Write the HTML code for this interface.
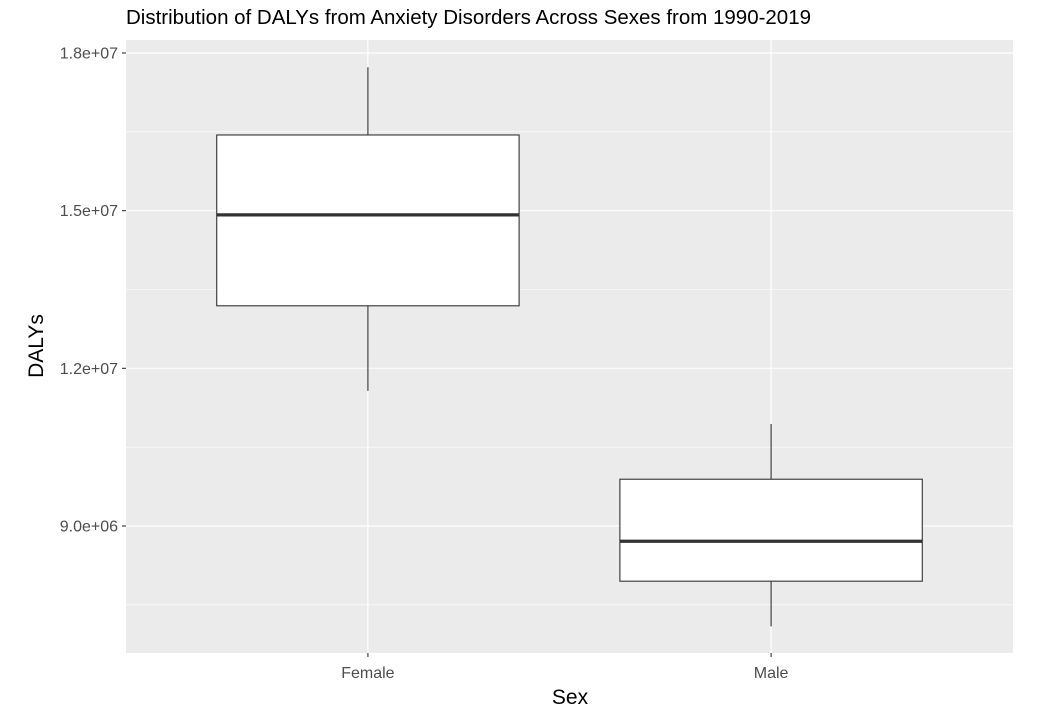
<!DOCTYPE html>
<html><head><meta charset="utf-8"><style>
body{margin:0;background:#fff;}
svg{display:block;font-family:"Liberation Sans",Arial,sans-serif;}
</style></head><body>
<svg id="chart" width="1062" height="723">
<text x="126" y="24" font-size="20" textLength="685" lengthAdjust="spacingAndGlyphs" fill="#000">Distribution of DALYs from Anxiety Disorders Across Sexes from 1990-2019</text>
<rect x="126" y="40" width="887" height="613" fill="#ebebeb"/>
<g id="grid"></g><g id="boxes"></g><g id="axes"></g>
<text x="570" y="704" font-size="21" text-anchor="middle" fill="#000">Sex</text>
<text transform="translate(43,346) rotate(-90)" font-size="21" text-anchor="middle" fill="#000">DALYs</text>
</svg>
<script>
const categories=["Female","Male"];
const whiskerLow=[11570000,7090000];
const q1=[13190000,7950000];
const medians=[14920000,8710000];
const q3=[16440000,9890000];
const whiskerHigh=[17730000,10940000];
const yTicks=[9000000,12000000,15000000,18000000];
const yTickLabels=["9.0e+06","1.2e+07","1.5e+07","1.8e+07"];
const NS="http://www.w3.org/2000/svg";
const pLeft=126,pRight=1013,pTop=40,pBottom=653;
function y(v){return 526+(9000000-v)*(473/9000000);}
const step=(pRight-pLeft)/(categories.length-1+1.2);
function x(i){return pLeft+step*(0.6+i);}
function mk(tag,attrs,parent){const e=document.createElementNS(NS,tag);for(const k in attrs)e.setAttribute(k,attrs[k]);parent.appendChild(e);return e;}
const grid=document.getElementById('grid'),boxes=document.getElementById('boxes'),axes=document.getElementById('axes');
const minorVals=[yTicks[0]-(yTicks[1]-yTicks[0])/2];
for(let i=0;i<yTicks.length-1;i++)minorVals.push((yTicks[i]+yTicks[i+1])/2);
minorVals.forEach(v=>{
  const l=mk('line',{x1:pLeft,x2:pRight,y1:y(v),y2:y(v),stroke:'#fff','stroke-width':0.6},grid);
  
  
});
yTicks.forEach((t,i)=>{
  const l=mk('line',{x1:pLeft,x2:pRight,y1:y(t),y2:y(t),stroke:'#fff','stroke-width':1.2},grid);
  
  
  mk('line',{x1:pLeft-4,x2:pLeft,y1:y(t),y2:y(t),stroke:'#333','stroke-width':1.1},axes);
  const tx=mk('text',{x:pLeft-8,y:y(t)+5.5,'font-size':16,'text-anchor':'end',fill:'#4d4d4d'},axes);
  tx.textContent=yTickLabels[i];
  
  
});
const bw=step*0.75;
categories.forEach((c,i)=>{
  const cx=x(i);
  const g=mk('line',{x1:cx,x2:cx,y1:pTop,y2:pBottom,stroke:'#fff','stroke-width':1.2},grid);
  
  
  const w=mk('line',{x1:cx,x2:cx,y1:y(whiskerHigh[i]),y2:y(whiskerLow[i]),stroke:'#333','stroke-width':1.1},boxes);
  
  
  const r=mk('rect',{x:cx-bw/2,y:y(q3[i]),width:bw,height:y(q1[i])-y(q3[i]),fill:'#fff',stroke:'#333','stroke-width':1.1},boxes);
  
  
  const m=mk('line',{x1:cx-bw/2,x2:cx+bw/2,y1:y(medians[i]),y2:y(medians[i]),stroke:'#333','stroke-width':3.2},boxes);
  
  
  mk('line',{x1:cx,x2:cx,y1:pBottom,y2:pBottom+4,stroke:'#333','stroke-width':1.1},axes);
  const tx=mk('text',{x:cx,y:pBottom+25,'font-size':16,'text-anchor':'middle',fill:'#4d4d4d'},axes);
  tx.textContent=c;
  
  
});
</script>
</body></html>
